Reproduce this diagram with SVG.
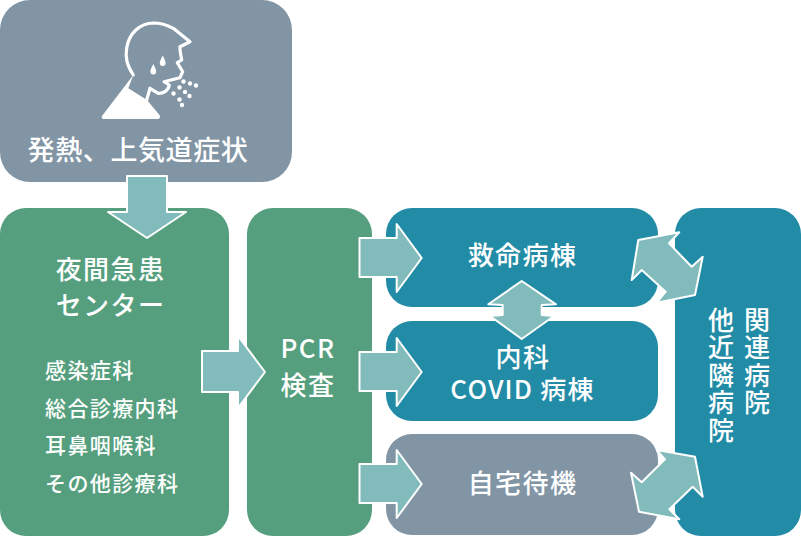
<svg xmlns="http://www.w3.org/2000/svg" width="801" height="536" viewBox="0 0 801 536">
<style>
.t{font-family:"Noto Sans CJK JP","Noto Sans",sans-serif;fill:#fff;font-weight:500}
.c{text-anchor:middle}
.m{font-size:26px;letter-spacing:1.400px}
.s{font-size:21px;letter-spacing:1.400px}
.v{font-size:26px;letter-spacing:1.500px;writing-mode:vertical-rl}
.a{fill:#81bbbb;stroke:#fff;stroke-width:2;stroke-linejoin:round}
.g{fill:#8295a5}.gr{fill:#559f7e}.b{fill:#228ca7}
</style>
<g id="node-symptom">
<rect class="g" x="0" y="0" width="292" height="182" rx="30"/>
<path d="M133.300 75C127 65 125 58 126.700 48C129 33 140 23.300 153.300 23C160 23 167 25 173.300 28.300L190 41.700L180 46.700C179.500 51 181 55 181.700 60L177.300 62.700L182.700 71.700L180 77.700L164 81.700L169.300 85C169 88 167 90 165 91.700C162 93.500 160 93.500 158.300 93.300L150 88.300L146.700 100" fill="none" stroke="#fff" stroke-width="3.200" stroke-linejoin="round" stroke-linecap="round"/>
<path d="M133.300 75L102 116Q101 119 104 119L158 119Q161 118 159.500 115L147 100L128.300 88.300Z" fill="#fff"/>
<path d="M162.700 55.500C161 59 159.800 61 159.800 63A2.900 2.900 0 0 0 165.600 63C165.600 61 164.400 59 162.700 55.500ZM153.300 64C151.600 67.500 150.400 69.500 150.400 71.500A2.900 2.900 0 0 0 156.200 71.500C156.200 69.500 155 67.500 153.300 64Z" fill="#fff"/>
<g fill="#fff"><circle cx="183.500" cy="81.500" r="2.200"/><circle cx="190" cy="83.500" r="2.200"/><circle cx="196" cy="85.500" r="2.200"/><circle cx="179.500" cy="87.500" r="2.200"/><circle cx="185" cy="92" r="2.200"/><circle cx="189.500" cy="96" r="2.200"/><circle cx="173.500" cy="93.500" r="2.200"/><circle cx="179.500" cy="99.500" r="2.200"/><circle cx="182" cy="105" r="2.200"/></g>
<text class="t c" x="138" y="160" font-size="27" letter-spacing="0.600">発熱、上気道症状</text>
</g>
<g id="node-night">
<rect class="gr" x="0" y="208" width="229" height="328" rx="26"/>
<text class="t c m" x="110.500" y="279">夜間急患</text>
<text class="t c m" x="110.500" y="315">センター</text>
<text class="t s" x="45" y="378">感染症科</text>
<text class="t s" x="45" y="416">総合診療内科</text>
<text class="t s" x="45" y="453">耳鼻咽喉科</text>
<text class="t s" x="45" y="491">その他診療科</text>
</g>
<g id="node-pcr">
<rect class="gr" x="247" y="208" width="125" height="328" rx="26"/>
<text class="t c" font-size="26" letter-spacing="1.500" x="308" y="358">PCR</text>
<text class="t c m" x="308" y="395">検査</text>
</g>
<g id="node-er">
<rect class="b" x="386" y="208" width="272" height="99" rx="26"/>
<text class="t c m" x="522.500" y="265">救命病棟</text>
</g>
<g id="node-covid">
<rect class="b" x="386" y="321" width="272" height="100" rx="26"/>
<text class="t c m" x="523" y="367">内科</text>
<text class="t c" font-size="26" letter-spacing="1.200" x="522.500" y="399">COVID 病棟</text>
</g>
<g id="node-home">
<rect class="g" x="386" y="434" width="272" height="101" rx="26"/>
<text class="t c m" x="522.500" y="493">自宅待機</text>
</g>
<g id="node-hospitals">
<rect class="b" x="675" y="208" width="126" height="328" rx="26"/>
<text class="t v" x="757" y="307">関連病院</text>
<text class="t v" x="721" y="307">他近隣病院</text>
</g>
<g id="connectors">
<polygon class="a" points="127,176 167,176 167,212 186,212 147,238 108,212 127,212"/>
<polygon class="a" points="202,351 238,351 238,336 265,372 238,408 238,392 202,392"/>
<polygon class="a" points="359.500,238 396.700,238 396.700,224 421.700,258 396.700,292 396.700,277 359.500,277"/>
<polygon class="a" points="359.500,352 396.700,352 396.700,338 421.700,372 396.700,406 396.700,391 359.500,391"/>
<polygon class="a" points="359.500,464 396.700,464 396.700,450 421.700,484 396.700,518 396.700,503 359.500,503"/>
<polygon class="a" points="521.700,281 556,304.300 541.700,305 541.700,315 554,316 521.700,339 490,316 502.700,315 502.700,305 488.300,304.300"/>
<polygon class="a" points="638.300,240 679.300,232.300 669,243.300 691.700,266.700 702.700,256.700 695,295 656.700,302.700 665.700,291.700 641.700,270 631.700,280"/>
<polygon class="a" points="656.700,450 665,459.300 641.700,482.300 631,472.700 639,511.700 679.300,519.300 669.300,509.300 692.700,486.700 702.700,496.700 695,456.700"/>
</g>
</svg>
